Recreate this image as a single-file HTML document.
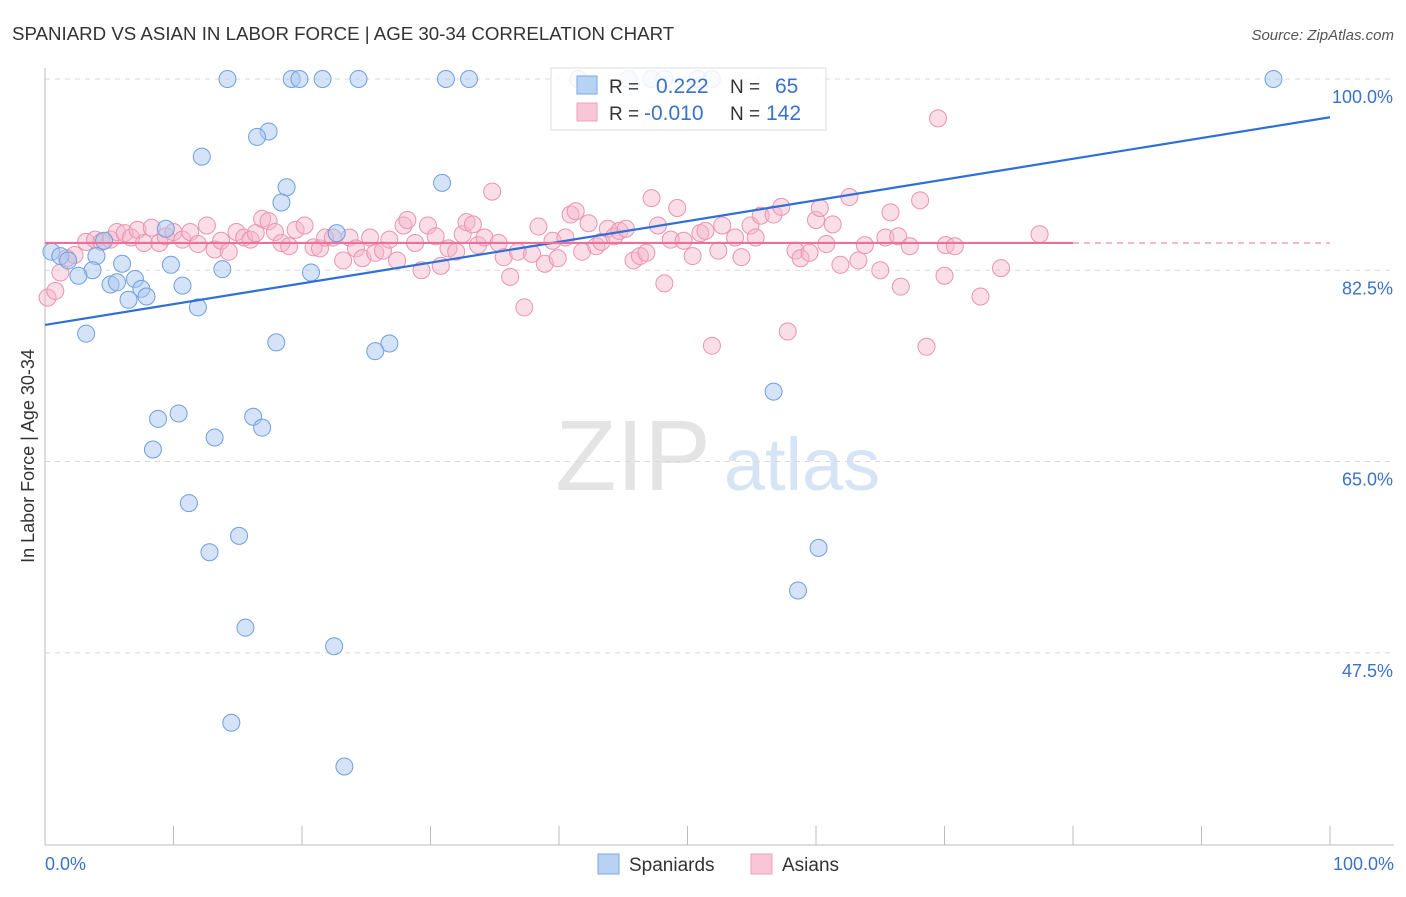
<!DOCTYPE html>
<html><head><meta charset="utf-8"><style>
body{margin:0;background:#fff;font-family:"Liberation Sans",sans-serif;}
svg text{font-family:"Liberation Sans",sans-serif;}
</style></head><body>
<svg id="chart" width="1406" height="892" viewBox="0 0 1406 892" xmlns="http://www.w3.org/2000/svg">
<text x="12" y="40" font-size="18.7" fill="#333">SPANIARD VS ASIAN IN LABOR FORCE | AGE 30-34 CORRELATION CHART</text>
<text x="1394" y="40" font-size="15" fill="#555" text-anchor="end" font-style="italic">Source: ZipAtlas.com</text>
<g>
<text x="633" y="490" font-size="100" fill="#e4e4e4" text-anchor="middle" font-family="Liberation Serif,serif">ZIP</text>
<text x="802" y="490" font-size="74" fill="#d6e4f5" text-anchor="middle">atlas</text>
</g>
<g id="grid"></g>
<g id="axes"></g>
<g id="pts"></g>
<g id="trend"></g>
<g>
<rect x="551" y="68" width="275" height="62" fill="#fff" fill-opacity="0.85" stroke="#ddd"/>
<rect x="577" y="76" width="20" height="18" fill="#b8d2f4" stroke="#7aa8e4"/>
<rect x="577" y="103" width="20" height="18" fill="#f8c6d6" stroke="#eea0ba"/>
<text x="609" y="93" font-size="19" fill="#333">R =</text>
<text x="656" y="93" font-size="21" fill="#3a72c8">0.222</text>
<text x="730" y="93" font-size="19" fill="#333">N =</text>
<text x="775" y="93" font-size="21" fill="#3a72c8">65</text>
<text x="609" y="120" font-size="19" fill="#333">R =</text>
<text x="644" y="120" font-size="21" fill="#3a72c8">-0.010</text>
<text x="730" y="120" font-size="19" fill="#333">N =</text>
<text x="766" y="120" font-size="21" fill="#3a72c8">142</text>
</g>
<g>
<rect x="598" y="854" width="21" height="20" fill="#b8d2f4" stroke="#7aa8e4"/>
<text x="629" y="871" font-size="19" fill="#333">Spaniards</text>
<rect x="751" y="854" width="21" height="20" fill="#f8c6d6" stroke="#eea0ba"/>
<text x="782" y="871" font-size="19" fill="#333">Asians</text>
</g>
<text transform="translate(34,456) rotate(-90)" font-size="18" fill="#333" text-anchor="middle">In Labor Force | Age 30-34</text>
</svg>
<script>
const yTicks=[100,82.5,65,47.5];
const yTickLabels=["100.0%","82.5%","65.0%","47.5%"];
const xTickLabels=["0.0%","100.0%"];
const blueX=[14.2,19.2,19.8,21.6,24.4,31.2,33.0,95.6,41.5,45.4,47.2,48.2,50.8,51.9,17.4,16.5,12.2,18.8,30.9,18.4,9.4,22.7,0.5,1.2,1.8,4.0,4.6,6.0,3.7,2.6,9.8,13.8,20.7,5.1,5.6,7.0,7.5,7.9,6.5,10.7,11.9,3.2,18.0,26.8,25.7,56.7,8.8,10.4,16.2,16.9,13.2,8.4,11.2,15.1,12.8,60.2,58.6,15.6,22.5,14.5,23.3];
const blueY=[100,100,100,100,100,100,100,100,100,100,100,100,100,100,95.2,94.7,92.9,90.1,90.5,88.7,86.3,85.9,84.2,83.8,83.4,83.8,85.2,83.1,82.5,82.0,83.0,82.6,82.3,81.2,81.4,81.7,80.8,80.1,79.8,81.1,79.1,76.7,75.9,75.8,75.1,71.4,68.9,69.4,69.1,68.1,67.2,66.1,61.2,58.2,56.7,57.1,53.2,49.8,48.1,41.1,37.1];
const pinkX=[0.2,0.8,1.2,1.7,2.3,3.2,3.9,4.4,5.1,5.6,6.2,6.7,7.2,7.7,8.3,8.9,9.4,10.0,10.7,11.3,11.9,12.6,13.2,13.7,14.3,14.9,15.5,16.0,16.4,16.9,17.4,17.9,18.4,19.0,19.5,20.2,20.9,21.4,21.8,22.4,23.2,23.7,24.2,24.7,25.3,25.7,26.3,26.8,27.4,27.9,28.2,28.8,29.3,29.8,30.4,30.8,31.4,32.0,32.5,32.8,33.3,33.7,34.2,34.8,35.3,35.7,36.2,36.8,37.3,37.9,38.4,38.9,39.5,39.9,40.5,40.9,41.3,41.8,42.3,42.9,43.3,43.8,44.3,44.7,45.2,45.8,46.3,46.8,47.2,47.7,48.2,48.7,49.2,49.7,50.4,51.0,51.4,51.9,52.4,52.7,53.7,54.2,54.9,55.3,55.7,56.7,57.3,57.8,58.4,58.8,59.5,60.0,60.3,60.8,61.3,61.9,62.6,63.3,63.8,65.0,65.4,65.8,66.4,66.6,67.3,68.1,68.6,69.5,70.0,70.1,70.8,72.8,74.4,77.4];
const pinkY=[80.0,80.6,82.3,83.6,83.9,85.1,85.3,85.1,85.3,86.0,85.9,85.5,86.2,85.0,86.4,85.0,85.6,86.0,85.3,86.0,84.9,86.6,84.4,85.2,84.2,86.0,85.5,85.3,85.9,87.2,87.0,86.0,85.0,84.7,86.2,86.6,84.6,84.5,85.5,85.5,83.4,85.5,84.5,83.6,85.5,84.1,84.3,85.3,83.4,86.6,87.1,85.0,82.5,86.6,85.6,82.9,84.5,84.2,85.8,86.9,86.7,84.8,85.5,89.7,85.0,83.7,81.9,84.2,79.1,84.0,86.5,83.1,85.2,83.6,85.5,87.6,87.9,84.2,86.8,84.7,85.1,86.3,85.6,86.1,86.3,83.4,83.8,84.1,89.1,86.6,81.3,85.3,88.2,85.2,83.8,85.9,86.1,75.6,84.3,86.6,85.5,83.7,86.6,85.5,87.5,87.6,88.3,76.9,84.3,83.6,84.1,87.1,88.2,84.9,86.7,83.0,89.2,83.4,84.8,82.5,85.5,87.8,85.6,81.0,84.7,88.9,75.5,96.4,82.0,84.8,84.7,80.1,82.7,85.8];
const blueTrend=[77.5,96.5];
const pinkTrend=[85.0,85.0];
const pinkSolidEnd=80;

const NS="http://www.w3.org/2000/svg";
const X0=45,X1=1330,Y100=79,PPU=10.93,YB=845;
const sx=v=>X0+(X1-X0)*v/100;
const sy=v=>Y100+(100-v)*PPU;
function mk(tag,attrs,parent){const e=document.createElementNS(NS,tag);for(const k in attrs)e.setAttribute(k,attrs[k]);document.getElementById(parent).appendChild(e);return e;}
yTicks.forEach((t,i)=>{
  const l=mk('line',{x1:X0,x2:1394,y1:sy(t),y2:sy(t),stroke:'#d8d8d8','stroke-dasharray':'5,5'},'grid');
  
  
  const tx=mk('text',{x:1393,y:sy(t)+24,'font-size':18,fill:'#3a72c8','text-anchor':'end'},'grid');
  tx.textContent=yTickLabels[i];
  
  
});
let a=mk('line',{x1:X0,x2:X0,y1:68,y2:YB,stroke:'#bbb'},'axes');


a=mk('line',{x1:X0,x2:1394,y1:YB,y2:YB,stroke:'#bbb'},'axes');


for(let i=0;i<=10;i++){
  const t=mk('line',{x1:sx(i*10),x2:sx(i*10),y1:826,y2:YB,stroke:'#bbb'},'axes');
  
  
}
[[0,'start',45],[100,'end',1394]].forEach(([v,an,x],i)=>{
  const t=mk('text',{x:x,y:870,'font-size':18,fill:'#3a72c8','text-anchor':an},'axes');
  t.textContent=xTickLabels[i];
  
  
});
pinkX.forEach((v,i)=>{
  const c=mk('circle',{cx:sx(v),cy:sy(pinkY[i]),r:8.5,fill:'#f5b5ca','fill-opacity':0.45,stroke:'#eb92b2','stroke-width':1},'pts');
  
  
});
blueX.forEach((v,i)=>{
  const c=mk('circle',{cx:sx(v),cy:sy(blueY[i]),r:8.5,fill:'#a9c8f0','fill-opacity':0.5,stroke:'#6f9fe0','stroke-width':1},'pts');
  
  
});
let t=mk('line',{x1:sx(0),y1:sy(blueTrend[0]),x2:sx(100),y2:sy(blueTrend[1]),stroke:'#2f6fd6','stroke-width':2.2},'trend');


const pyAt=v=>pinkTrend[0]+(pinkTrend[1]-pinkTrend[0])*v/100;
t=mk('line',{x1:sx(0),y1:sy(pyAt(0)),x2:sx(pinkSolidEnd),y2:sy(pyAt(pinkSolidEnd)),stroke:'#ec6f9a','stroke-width':2.2},'trend');


t=mk('line',{x1:sx(pinkSolidEnd),y1:sy(pyAt(pinkSolidEnd)),x2:sx(100),y2:sy(pyAt(100)),stroke:'#f0a0bc','stroke-width':1.5,'stroke-dasharray':'6,5'},'trend');


</script>
</body></html>
